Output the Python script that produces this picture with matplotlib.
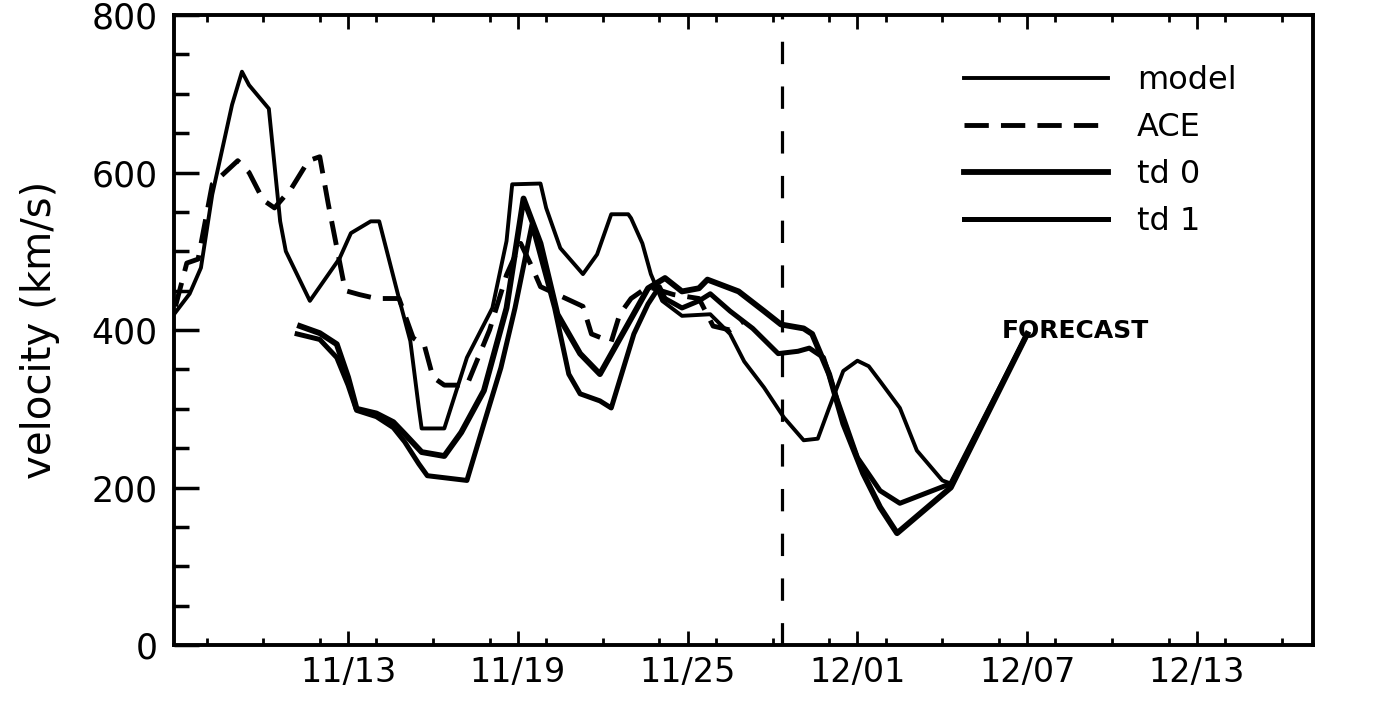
import matplotlib.pyplot as plt
from matplotlib.ticker import MultipleLocator, FixedLocator

# day numbers counted from 11/01 (so 12/01 = 31)
model_day = [6.85, 7.4, 7.8, 8.2, 8.9, 9.25, 9.5, 10.2, 10.6, 10.8, 11.65, 12.7, 13.1,
             13.8, 14.1, 14.8, 15.2, 15.5, 15.6, 16.4, 17.2, 18.1, 18.6, 18.8, 19.8,
             20.0, 20.5, 21.3, 21.8, 22.3, 22.9, 23.0, 23.4, 23.7, 24.1, 24.8, 25.8,
             26.5, 27.0, 27.7, 28.4, 29.1, 29.6, 30.0, 30.5, 31.0, 31.4, 31.8, 32.5,
             33.1, 34.0, 34.3, 37.0]
model_v = [420, 446, 479, 572, 686, 728, 711, 681, 538, 500, 437, 491, 523,
           538, 538, 440, 386, 301, 275, 275, 365, 428, 513, 585, 586,
           555, 504, 471, 496, 547, 547, 542, 510, 471, 437, 418, 420,
           395, 360, 327, 289, 260, 262, 301, 348, 361, 354, 335, 301,
           247, 209, 205, 395]

ace_day = [6.9, 7.3, 7.7, 8.2, 9.1, 9.5, 10.0, 10.4, 11.0, 11.6, 12.0, 12.3, 12.6,
           12.9, 13.4, 14.0, 14.8, 15.3, 15.7, 16.0, 16.4, 17.2, 18.0, 18.6, 19.1,
           19.5, 19.8, 20.7, 21.3, 21.6, 22.3, 22.6, 23.0, 23.6, 24.5, 25.4, 25.9,
           26.5, 27.0]
ace_v = [430, 485, 490, 585, 615, 600, 565, 555, 580, 615, 620, 560, 505,
         450, 445, 440, 440, 390, 380, 340, 330, 330, 400, 470, 510,
         480, 455, 440, 430, 395, 385, 420, 440, 455, 445, 440, 405,
         400, 412]

td0_day = [11.3, 12.0, 12.6, 13.0, 13.3, 14.0, 14.6, 15.0, 15.6, 16.4, 17.0, 17.8,
           18.6, 19.2, 19.8, 20.4, 21.2, 21.9, 22.9, 23.6, 24.2, 24.8, 25.4, 25.7,
           26.8, 27.7, 28.3, 29.1, 29.4, 30.0, 30.5, 31.2, 31.8, 32.4, 34.3, 37.0]
td0_v = [405, 396, 382, 340, 300, 294, 283, 268, 245, 240, 270, 323,
         428, 567, 510, 420, 370, 344, 408, 453, 466, 449, 453, 464,
         449, 424, 407, 402, 395, 344, 281, 218, 175, 142, 200, 395]

td1_day = [11.2, 12.0, 12.6, 13.0, 13.3, 14.0, 14.6, 15.0, 15.5, 15.8, 16.5, 17.2,
           17.8, 18.4, 18.9, 19.5, 20.3, 20.8, 21.2, 21.9, 22.3, 23.1, 23.6, 24.0,
           24.2, 24.8, 25.4, 25.8, 26.5, 27.3, 28.2, 28.9, 29.3, 29.8, 30.3, 31.0,
           31.8, 32.5, 34.3, 37.0]
td1_v = [395, 388, 365, 330, 298, 290, 276, 258, 230, 215, 212, 209,
         281, 352, 428, 534, 428, 344, 319, 310, 301, 395, 433, 455,
         440, 428, 437, 446, 424, 402, 370, 373, 377, 365, 310, 238,
         196, 180, 205, 395]

now_day = 28.33
tick_days = [13, 19, 25, 31, 37, 43]
tick_labels = ["11/13", "11/19", "11/25", "12/01", "12/07", "12/13"]

plt.rcParams['font.family'] = ['DejaVu Sans']

fig = plt.figure(figsize=(13.98, 7.14), dpi=100)
ax = fig.add_axes([0.1245, 0.0966, 0.8147, 0.8824])

ax.plot(model_day, model_v, color='black', lw=2.8, label='model')
ax.plot(ace_day, ace_v, color='black', lw=3.5, dashes=(5, 2.5), label='ACE')
ax.plot(td0_day, td0_v, color='black', lw=4.2, label='td 0')
ax.plot(td1_day, td1_v, color='black', lw=3.6, label='td 1')

# "now" line
ax.axvline(now_day, color='black', lw=2.3, dashes=(7, 7))

ax.text(36.1, 399, "FORECAST", fontsize=18, fontweight='bold', ha='left', va='center')

ax.set_xlim(6.85, 47.1)
ax.set_ylim(0, 800)

ax.xaxis.set_major_locator(FixedLocator(tick_days))
ax.set_xticklabels(tick_labels)
ax.xaxis.set_minor_locator(MultipleLocator(2))
ax.yaxis.set_major_locator(MultipleLocator(200))
ax.yaxis.set_minor_locator(MultipleLocator(50))

ax.tick_params(axis='x', which='both', direction='in', top=True, bottom=True,
               labelsize=24, pad=8, width=2)
ax.tick_params(axis='x', which='major', length=10)
ax.tick_params(axis='x', which='minor', length=5)
ax.tick_params(axis='y', which='both', direction='in', left=True, right=False,
               labelsize=25, pad=12, width=2.5)
ax.tick_params(axis='y', which='major', length=18)
ax.tick_params(axis='y', which='minor', length=11)

for s in ax.spines.values():
    s.set_linewidth(2.8)

ax.set_ylabel("velocity (km/s)", fontsize=29)
ax.yaxis.set_label_coords(-0.1, 0.5)

leg = ax.legend(loc='upper left', bbox_to_anchor=(0.694, 0.92), frameon=False,
                fontsize=23, handlelength=4.5, handletextpad=0.9,
                labelspacing=0.5, borderpad=0, borderaxespad=0)

fig.savefig("out.png", dpi=100)
